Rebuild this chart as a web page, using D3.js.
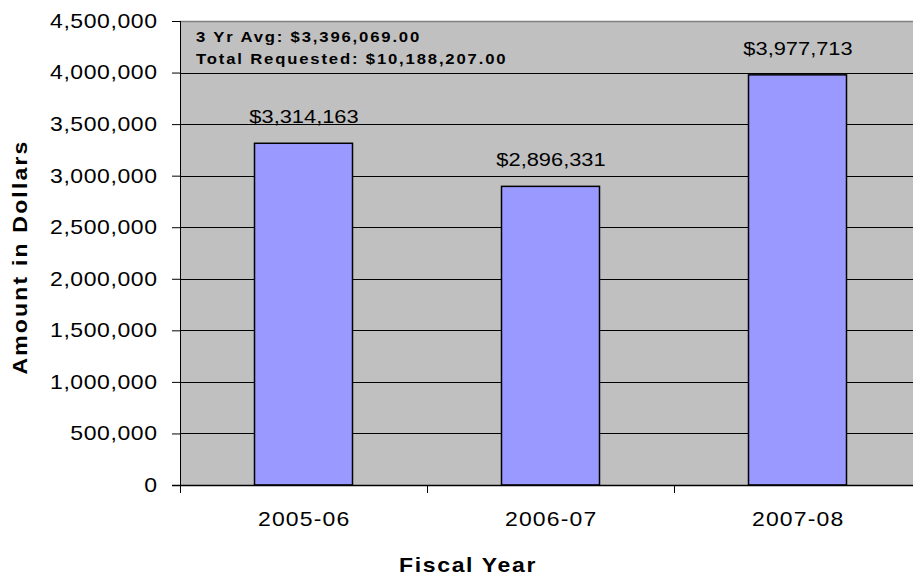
<!DOCTYPE html>
<html><head><meta charset="utf-8">
<script src="https://cdn.jsdelivr.net/npm/d3@7"></script>
<style>body{margin:0;background:#fff;} svg{display:block;font-family:"Liberation Sans",Arial,sans-serif;}</style>
</head><body>
<svg id="c" width="913" height="581"></svg>
<script>
const categories = ["2005-06", "2006-07", "2007-08"];
const values = [3314163, 2896331, 3977713];
const valueLabels = ["$3,314,163", "$2,896,331", "$3,977,713"];
const yTicks = [0, 500000, 1000000, 1500000, 2000000, 2500000, 3000000, 3500000, 4000000, 4500000];
const notes = ["3 Yr Avg: $3,396,069.00", "Total Requested: $10,188,207.00"];

const FF = "Liberation Sans, Arial, sans-serif";
const S = 1.15; // horizontal glyph stretch of the original rendering
const svg = d3.select("#c");
const L = 180, R = 921, T = 21, B = 485;
const x = d3.scaleBand().domain(categories).range([L, R]).paddingInner(0).paddingOuter(0);
const y = d3.scaleLinear().domain([0, 4500000]).range([B, T]);

svg.append("rect").attr("x", L).attr("y", T).attr("width", R - L).attr("height", B - T).attr("fill", "#c0c0c0");
svg.append("line").attr("x1", L).attr("x2", R).attr("y1", T + 0.5).attr("y2", T + 0.5).attr("stroke", "#808080").attr("stroke-width", 1.5);

// gridlines
svg.append("g").selectAll("line").data(yTicks.filter(d => d > 0 && d < 4500000)).join("line")
  .attr("x1", L).attr("x2", R).attr("y1", d => Math.round(y(d)) + 0.5).attr("y2", d => Math.round(y(d)) + 0.5)
  .attr("stroke", "#000").attr("stroke-width", 1);

// bars
const bw = 98;
svg.append("g").selectAll("rect").data(values).join("rect")
  .attr("x", (d, i) => x(categories[i]) + x.bandwidth() / 2 - bw / 2)
  .attr("y", d => y(d)).attr("width", bw).attr("height", d => B - y(d))
  .attr("fill", "#9999ff").attr("stroke", "#000").attr("stroke-width", 1.5);

// value labels
svg.append("g").selectAll("g").data(values).join("g")
  .attr("transform", (d, i) => `translate(${x(categories[i]) + x.bandwidth() / 2 + 0.5},${y(d) - 20})`)
  .append("text").attr("transform", `scale(${S},1)`).attr("text-anchor", "middle").attr("font-size", 19)
  .attr("fill", "#000").text((d, i) => valueLabels[i]);

// y axis
const yAxis = d3.axisLeft(y).tickValues(yTicks).tickSize(8).tickPadding(14.5).tickFormat(d3.format(","));
const gy = svg.append("g").attr("transform", `translate(${L},0)`).call(yAxis);
gy.select(".domain").attr("stroke", "#000").attr("stroke-width", 1).attr("d", `M0.5,${T}V${B}`);
gy.selectAll(".tick line").attr("stroke", "#000");
gy.selectAll(".tick text").attr("font-size", 20).attr("font-family", FF).attr("letter-spacing", 0.5)
  .attr("x", -22.5 / S).attr("transform", `scale(${S},1)`).attr("fill", "#000");

// x axis
const xAxis = d3.axisBottom(x).tickSize(0).tickPadding(27);
const gx = svg.append("g").attr("transform", `translate(0,${B})`).call(xAxis);
gx.select(".domain").attr("stroke", "#000").attr("stroke-width", 1.5).attr("d", `M${L - 8},0.5H${R}`);
gx.selectAll(".tick text").attr("font-size", 20).attr("font-family", FF).attr("letter-spacing", 1)
  .attr("x", 0.6).attr("transform", `scale(${S},1)`).attr("fill", "#000");
// category separators
svg.append("g").selectAll("line").data(categories).join("line")
  .attr("x1", d => Math.round(x(d)) + 0.5).attr("x2", d => Math.round(x(d)) + 0.5)
  .attr("y1", B).attr("y2", B + 8).attr("stroke", "#000");

// notes
svg.append("g").selectAll("g").data(notes).join("g")
  .attr("transform", (d, i) => `translate(196,${42 + i * 21.5})`)
  .append("text").attr("transform", `scale(${S},1)`)
  .attr("font-size", 14.5).attr("font-weight", "bold").attr("letter-spacing", 1.6).attr("fill", "#000")
  .text(d => d);

// axis titles
svg.append("g").attr("transform", "translate(468,572)")
  .append("text").attr("transform", `scale(${S},1)`).attr("text-anchor", "middle")
  .attr("font-size", 20).attr("font-weight", "bold").attr("letter-spacing", 1.45).text("Fiscal Year");
svg.append("text").attr("transform", `translate(27,257) rotate(-90) scale(${S},1)`).attr("text-anchor", "middle")
  .attr("font-size", 20).attr("font-weight", "bold").attr("letter-spacing", 1.9).text("Amount in Dollars");
</script>
</body></html>
